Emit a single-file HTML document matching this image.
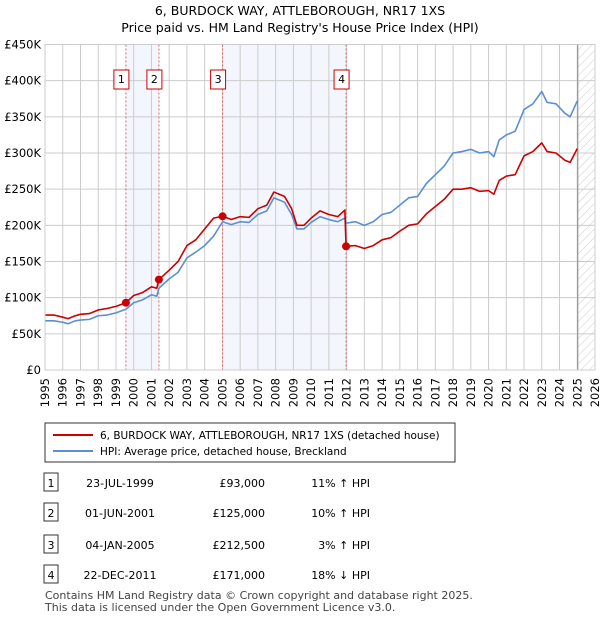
<!DOCTYPE html>
<html><head><meta charset="utf-8"><style>
body{margin:0;background:#fff;font-family:"Liberation Sans",sans-serif;}
svg text{font-family:"DejaVu Sans","Liberation Sans",sans-serif;}
</style></head><body>
<svg id="c" width="600" height="620" xmlns="http://www.w3.org/2000/svg">
<defs><pattern id="hatch" width="6" height="6" patternUnits="userSpaceOnUse" patternTransform="rotate(45)"><line x1="0" y1="0" x2="0" y2="6" stroke="#ccc" stroke-width="1"/></pattern></defs>
<text x="300" y="15" text-anchor="middle" font-size="12.5">6, BURDOCK WAY, ATTLEBOROUGH, NR17 1XS</text>
<text x="300" y="32" text-anchor="middle" font-size="12.5">Price paid vs. HM Land Registry's House Price Index (HPI)</text>
<g id="plot"></g>
<g>
<rect x="45" y="423" width="410" height="39" fill="#fff" stroke="#333" stroke-width="1"/>
<line x1="53" y1="435" x2="93" y2="435" stroke="#cc0000" stroke-width="2"/>
<text x="100" y="439" font-size="10.5">6, BURDOCK WAY, ATTLEBOROUGH, NR17 1XS (detached house)</text>
<line x1="53" y1="451" x2="93" y2="451" stroke="#5b8fd4" stroke-width="2"/>
<text x="100" y="455" font-size="10.5">HPI: Average price, detached house, Breckland</text>
</g>
<g id="table" font-size="11"></g>
<text x="45" y="599" font-size="11" fill="#444">Contains HM Land Registry data © Crown copyright and database right 2025.</text>
<text x="45" y="611" font-size="11" fill="#444">This data is licensed under the Open Government Licence v3.0.</text>
</svg>
<script>
const years=[1995,1995.5,1996,1996.3,1996.7,1997,1997.5,1998,1998.5,1999,1999.56,2000,2000.5,2001,2001.3,2001.42,2002,2002.5,2003,2003.5,2004,2004.5,2005.01,2005.5,2006,2006.5,2007,2007.5,2007.9,2008.5,2008.9,2009.2,2009.6,2010,2010.5,2011,2011.5,2011.9,2011.97,2012.5,2013,2013.5,2014,2014.5,2015,2015.5,2016,2016.5,2017,2017.5,2018,2018.5,2019,2019.5,2020,2020.3,2020.6,2021,2021.5,2022,2022.5,2023,2023.3,2023.8,2024.3,2024.6,2025];
const hpi=[68,68,66,64,68,69,70,75,76,79,84,93,97,104,102,113,126,135,155,163,172,185,205,201,205,204,215,220,238,232,215,195,195,204,212,208,205,210,203,205,200,205,215,218,228,238,240,258,270,282,300,302,305,300,302,295,318,325,330,360,368,385,370,368,355,350,372];
const paid=[76,76,73,71,75,77,78,83,85,88,93,103,107,115,113,125,138,150,172,180,195,210,212.5,208,212,211,223,228,246,240,223,200,200,210,220,215,212,221,171,172,168,172,180,183,192,200,202,216,226,236,250,250,252,247,248,243,262,268,270,296,302,314,302,300,290,287,306];
const saleYears=[1999.56,2001.42,2005.01,2011.97];
const salePrices=[93,125,212.5,171];
const saleLabels=["1","2","3","4"];
const saleDates=["23-JUL-1999","01-JUN-2001","04-JAN-2005","22-DEC-2011"];
const salePriceText=["£93,000","£125,000","£212,500","£171,000"];
const saleHpiText=["11% ↑ HPI","10% ↑ HPI","3% ↑ HPI","18% ↓ HPI"];
const yTicks=[0,50,100,150,200,250,300,350,400,450];
const yLabels=["£0","£50K","£100K","£150K","£200K","£250K","£300K","£350K","£400K","£450K"];
const xTicks=[1995,1996,1997,1998,1999,2000,2001,2002,2003,2004,2005,2006,2007,2008,2009,2010,2011,2012,2013,2014,2015,2016,2017,2018,2019,2020,2021,2022,2023,2024,2025,2026];
const dataEnd=2025.03;
const X0=45,X1=595,Y0=370,Y1=44.5;
const sx=y=>X0+(y-1995)/31*(X1-X0);
const sy=v=>Y0-v/450*(Y0-Y1);
const NS="http://www.w3.org/2000/svg";
const plot=document.getElementById('plot');
function mk(tag,attrs,parent){const e=document.createElementNS(NS,tag);for(const k in attrs)e.setAttribute(k,attrs[k]);(parent||plot).appendChild(e);return e;}
for(let i=0;i<saleYears.length;i+=2){const r=mk('rect',{x:sx(saleYears[i]),y:Y1,width:sx(saleYears[i+1])-sx(saleYears[i]),height:Y0-Y1,fill:'#f3f6fd'});

}
const h=mk('rect',{x:sx(dataEnd),y:Y1,width:X1-sx(dataEnd),height:Y0-Y1,fill:'url(#hatch)'});


xTicks.forEach(t=>{const l=mk('line',{x1:sx(t),x2:sx(t),y1:Y1,y2:Y0,stroke:'#cccccc','stroke-width':1});


const tx=mk('text',{x:0,y:0,'font-size':11.5,'text-anchor':'end',transform:`translate(${sx(t)+4},${Y0+8}) rotate(-90)`});tx.textContent=t;

});
yTicks.forEach((t,i)=>{const l=mk('line',{x1:X0,x2:X1,y1:sy(t),y2:sy(t),stroke:'#cccccc','stroke-width':1});


const tx=mk('text',{x:X0-4,y:sy(t)+4,'font-size':11.5,'text-anchor':'end'});tx.textContent=yLabels[i];

});
const dl=mk('line',{x1:sx(dataEnd),x2:sx(dataEnd),y1:Y1,y2:Y0,stroke:'#888','stroke-width':1});


saleYears.forEach((s,i)=>{const l=mk('line',{x1:sx(s),x2:sx(s),y1:Y1,y2:Y0,stroke:'#e06060','stroke-width':1,'stroke-dasharray':'2,2'});


const b=mk('rect',{x:sx(s)-12,y:70,width:15,height:19,fill:'#fff',stroke:'#cc0000','stroke-width':1});


const t=mk('text',{x:sx(s)-4.5,y:83,'font-size':11,'text-anchor':'middle'});t.textContent=saleLabels[i];

});
const line=(arr,col,name)=>{const p=mk('polyline',{points:years.map((y,i)=>sx(y)+','+sy(arr[i])).join(' '),fill:'none',stroke:col,'stroke-width':1.6,'stroke-linejoin':'round'});

};
line(hpi,'#5b8fd4','hpi-line');
line(paid,'#cc0000','price-paid-line');
saleYears.forEach((s,i)=>{const c=mk('circle',{cx:sx(s),cy:sy(salePrices[i]),r:4,fill:'#cc0000'});

});
mk('rect',{x:X0,y:Y1,width:X1-X0,height:Y0-Y1,fill:'none',stroke:'#cccccc'});
const tb=document.getElementById('table');
const rowY=[483,513,545,575];
saleLabels.forEach((lab,i)=>{const y=rowY[i];
const b=mk('rect',{x:44,y:y-10,width:14,height:18,fill:'#fff',stroke:'#333'},tb);


const cells=[[51,lab,'middle'],[120,saleDates[i],'middle'],[265,salePriceText[i],'end'],[370,saleHpiText[i],'end']];
cells.forEach(c=>{const t=mk('text',{x:c[0],y:y+4,'text-anchor':c[2]},tb);t.textContent=c[1];

});});
</script>
</body></html>
